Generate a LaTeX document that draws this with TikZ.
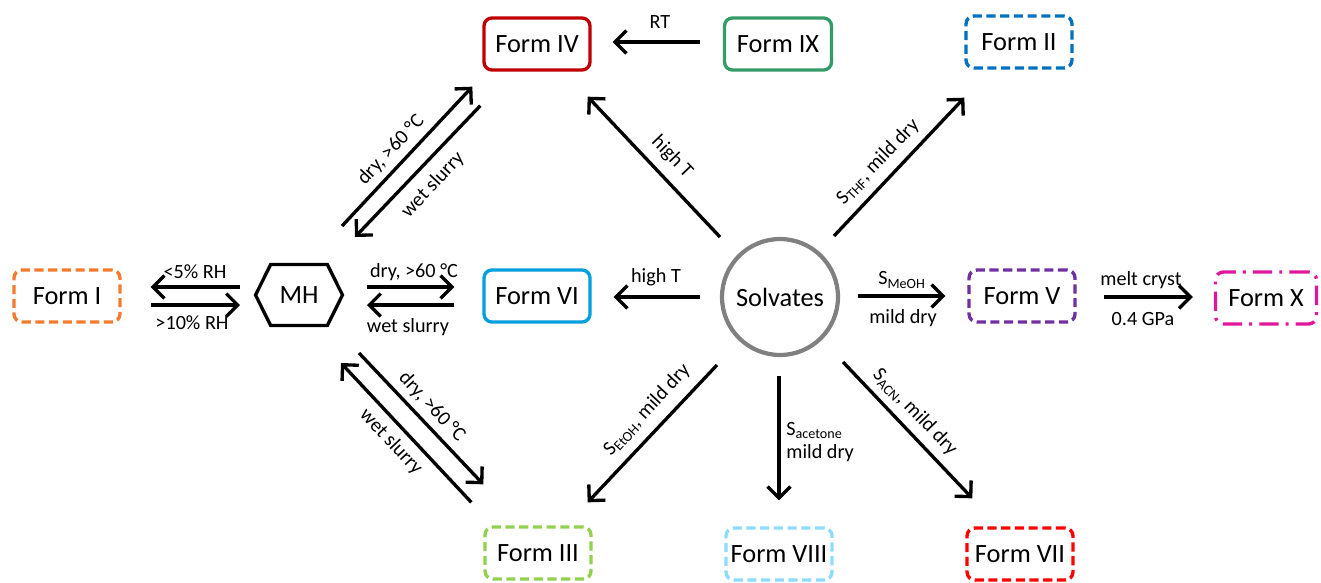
\documentclass[tikz,border=0pt]{standalone}
\usepackage{fontspec}
\setmainfont{Carlito}
\usetikzlibrary{arrows.meta,shapes.geometric,shapes.symbols}
\definecolor{fIcol}{HTML}{F47B2E}
\definecolor{fIIcol}{HTML}{0070C0}
\definecolor{fIIIcol}{HTML}{92D050}
\definecolor{fIVcol}{HTML}{C00000}
\definecolor{fVcol}{HTML}{7030A0}
\definecolor{fVIcol}{HTML}{00A0DD}
\definecolor{fVIIcol}{HTML}{FF0000}
\definecolor{fVIIIcol}{HTML}{8EDCFB}
\definecolor{fIXcol}{HTML}{359B67}
\definecolor{fXcol}{HTML}{E0169B}
\definecolor{solvgray}{HTML}{808080}

\begin{document}
\begin{tikzpicture}[x=0.02cm, y=-0.02cm,
  form/.style={draw, rounded corners=4.5pt, line width=1.9pt, minimum width=2.12cm, minimum height=1.04cm, inner sep=0pt, font=\fontsize{15}{18}\selectfont},
  dform/.style={form, dash pattern=on 5.2pt off 2.6pt},
  ddform/.style={form, dash pattern=on 11pt off 4pt on 1.7pt off 4pt},
  hexa/.style={draw, signal, signal to=west and east, signal pointer angle=127, line width=1.9pt, minimum width=1.74cm, minimum height=1.22cm, inner sep=0pt, font=\fontsize{15}{18}\selectfont},
  arr/.style={-{Straight Barb[length=6.5pt, width=13pt]}, line width=1.9pt},
  lbl/.style={font=\fontsize{11.5}{13.5}\selectfont, inner sep=0pt}
]
\useasboundingbox (0,0) rectangle (1321,582);

% forms
\node[form, draw=fIVcol] (f4) at (537,44) {Form IV};
\node[form, draw=fIXcol, minimum width=2.14cm] (f9) at (778,44) {Form IX};
\node[dform, draw=fIIcol] (f2) at (1019,42) {Form II};
\node[dform, draw=fIcol] (f1) at (67,296) {Form I};
\node[hexa] (mh) at (299,295) {MH};
\node[form, draw=fVIcol] (f6) at (537,296) {Form VI};
\node[circle, draw=solvgray, line width=2.4pt, minimum size=2.32cm, font=\fontsize{15}{18}\selectfont] (solv) at (780,297) {Solvates};
\node[dform, draw=fVcol] (f5) at (1022,296) {Form V};
\node[ddform, draw=fXcol, minimum width=2.02cm] (f10) at (1266,298) {Form X};
\node[dform, draw=fIIIcol] (f3) at (538,553) {Form III};
\node[dform, draw=fVIIIcol] (f8) at (779,554) {Form VIII};
\node[dform, draw=fVIIcol] (f7) at (1020,554) {Form VII};

% MH <-> Form I
\draw[arr] ([shift={(-59,-8)}]mh.center) -- ([shift={(29,-9)}]f1.east);
\draw[arr] ([shift={(29,9)}]f1.east) -- ([shift={(-59,10)}]mh.center);
\node[lbl] (l1) at (195,272) {<5\% RH};
\node[lbl] (l2) at (192,323) {>10\% RH};

% MH <-> Form VI
\draw[arr] ([shift={(68,-8)}]mh.center) -- ([shift={(-28,-9)}]f6.west);
\draw[arr] ([shift={(-28,9)}]f6.west) -- ([shift={(68,10)}]mh.center);
\node[lbl] (l3) at (414,272) {dry, >60 °C};
\node[lbl] (l4) at (408,327) {wet slurry};

% MH <-> Form IV
\draw[arr] ([shift={(43,-69)}]mh.center) -- ([shift={(-10,15)}]f4.south west);
\draw[arr] ([shift={(-2,34)}]f4.south west) -- ([shift={(56,-58)}]mh.center);
\node[lbl, rotate=47] (l5) at (391,150) {dry, >60 °C};
\node[lbl, rotate=47] (l6) at (433,185) {wet slurry};

% MH <-> Form III
\draw[arr] ([shift={(60,58)}]mh.center) -- ([shift={(0,-41)}]f3.north west);
\draw[arr] ([shift={(-12,-23)}]f3.north west) -- ([shift={(42,68)}]mh.center);
\node[lbl, rotate=-47] (l7) at (432,407) {dry, >60 °C};
\node[lbl, rotate=-47] (l8) at (391,442) {wet slurry};

% Form IX -> Form IV
\draw[arr] ([shift={(-23,-2)}]f9.west) -- ([shift={(21,-2)}]f4.east);
\node[lbl] (l9) at (660,22) {RT};

% Solvates -> ...
\draw[arr] ([shift={(-20,0)}]solv.west) -- ([shift={(22,1)}]f6.east);
\node[lbl] (l10) at (656,277) {high T};
\draw[arr] ([shift={(18,-1)}]solv.east) -- ([shift={(-22,0)}]f5.west);
\node[lbl] (l11) at (902,280) {S\textsubscript{MeOH}};
\node[lbl] (l12) at (903,318) {mild dry};
\draw[arr] ([shift={(-60,-60)}]solv.center) -- ([shift={(-4,25)}]f4.south east);
\node[lbl, rotate=-46] (l13) at (672,157) {high T};
\draw[arr] ([shift={(54,-61)}]solv.center) -- ([shift={(0,28)}]f2.south west);
\node[lbl, rotate=46] (l14) at (878,162) {S\textsubscript{THF}, mild dry};
\draw[arr] ([shift={(-63,68)}]solv.center) -- ([shift={(-5,-23)}]f3.north east);
\node[lbl, rotate=47] (l15) at (647,410) {S\textsubscript{EtOH}, mild dry};
\draw[arr] ([shift={(-1,19)}]solv.south) -- ([shift={(0,-26)}]f8.north);
\node[lbl, anchor=west, align=left] (l16) at (786,442) {S\textsubscript{acetone}\\mild dry};
\draw[arr] ([shift={(63,65)}]solv.center) -- ([shift={(7,-28)}]f7.north west);
\node[lbl, rotate=-46] (l17) at (915,412) {S\textsubscript{ACN}, mild dry};

% Form V -> Form X
\draw[arr] ([shift={(27,1)}]f5.east) -- ([shift={(-21,-1)}]f10.west);
\node[lbl] (l18) at (1141,280) {melt cryst};
\node[lbl] (l19) at (1143,319) {0.4 GPa};
\end{tikzpicture}
\end{document}
